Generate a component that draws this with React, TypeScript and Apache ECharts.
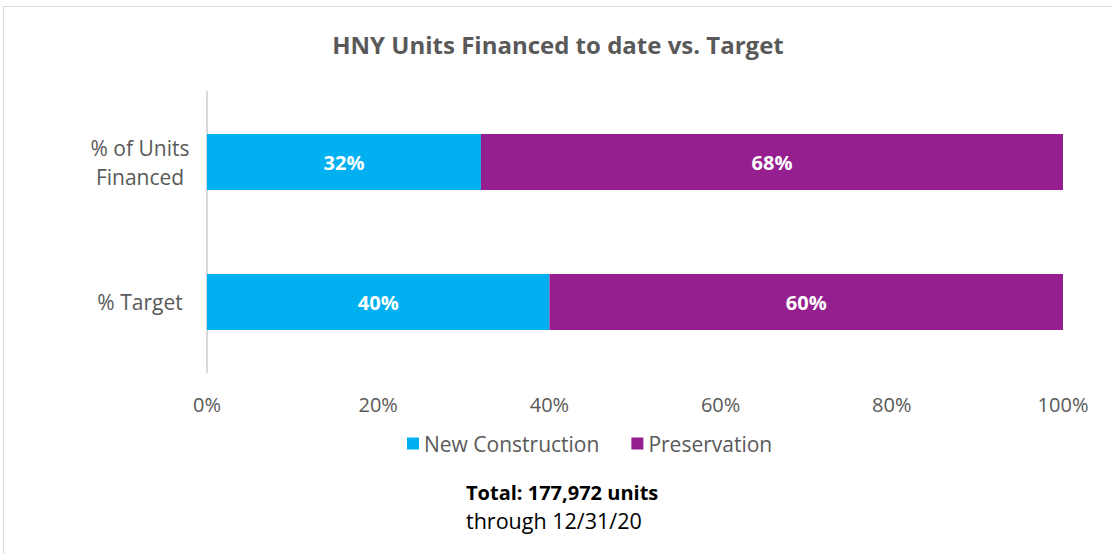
import React, { useEffect, useRef } from "react";
import * as echarts from "echarts";

const categories = ["% Target", "% of Units\nFinanced"];
const newConstruction = [40, 32];
const preservation = [60, 68];
const xTicks = [0, 20, 40, 60, 80, 100];
const titleText = "HNY Units Financed to date vs. Target";
const totalText = "Total: 177,972 units";
const throughText = "through 12/31/20";

const FONT = "'Open Sans', 'Liberation Sans', sans-serif";

export default function App() {
  const ref = useRef<HTMLDivElement>(null);
  useEffect(() => {
    if (!ref.current) return;
    const chart = echarts.init(ref.current, null, { renderer: "svg" });
    const barLabel = {
      show: true,
      position: "inside",
      formatter: "{c}%",
      fontFamily: FONT,
      fontSize: 20,
      fontWeight: "bold",
      color: "#ffffff",
    };
    chart.setOption({
      animation: false,
      backgroundColor: "#ffffff",
      textStyle: { fontFamily: FONT },
      title: {
        text: titleText,
        left: "center",
        top: 20,
        textStyle: { fontFamily: FONT, fontSize: 24, fontWeight: "bold", color: "#595959" },
      },
      legend: {
        data: ["New Construction", "Preservation"],
        top: 421,
        left: 398,
        itemWidth: 12,
        itemHeight: 12,
        itemGap: 32,
        icon: "rect",
        textStyle: { fontFamily: FONT, fontSize: 21, color: "#595959" },
      },
      grid: { left: 203, right: 49, top: 85, height: 280 },
      xAxis: {
        type: "value",
        min: xTicks[0],
        max: xTicks[xTicks.length - 1],
        interval: 20,
        axisLine: { show: false },
        axisTick: { show: false },
        splitLine: { show: false },
        axisLabel: {
          formatter: "{value}%",
          fontFamily: FONT,
          fontSize: 20,
          color: "#595959",
          margin: 22,
        },
      },
      yAxis: {
        type: "category",
        data: categories,
        axisLine: { show: true, lineStyle: { color: "#d9d9d9", width: 2 } },
        axisTick: { show: false },
        axisLabel: {
          fontFamily: FONT,
          fontSize: 21,
          color: "#595959",
          margin: 67,
          lineHeight: 29,
          align: "center",
        },
      },
      series: [
        {
          name: "New Construction",
          type: "bar",
          stack: "total",
          data: newConstruction,
          barWidth: 56,
          itemStyle: { color: "#00b0f0" },
          label: barLabel,
        },
        {
          name: "Preservation",
          type: "bar",
          stack: "total",
          data: preservation,
          barWidth: 56,
          itemStyle: { color: "#951f8e" },
          label: barLabel,
        },
      ],
      graphic: [
        {
          type: "text",
          left: 462,
          top: 475,
          style: { text: totalText, fontFamily: FONT, fontSize: 20, fontWeight: "bold", fill: "#000000" },
        },
        {
          type: "text",
          left: 462,
          top: 502,
          style: { text: throughText, fontFamily: FONT, fontSize: 21.5, fill: "#000000" },
        },
      ],
    });
    return () => chart.dispose();
  }, []);
  return (
    <div
      style={{
        position: "fixed",
        left: 0,
        top: 0,
        width: 1113,
        height: 554,
        background: "#ffffff",
        overflow: "hidden",
      }}
    >
      <div
        style={{
          position: "absolute",
          left: 3,
          top: 6,
          width: 1109,
          height: 560,
          border: "1px solid #d9d9d9",
          boxSizing: "border-box",
        }}
      />
      <div ref={ref} style={{ position: "absolute", left: 4, top: 7, width: 1108, height: 547 }} />
    </div>
  );
}
